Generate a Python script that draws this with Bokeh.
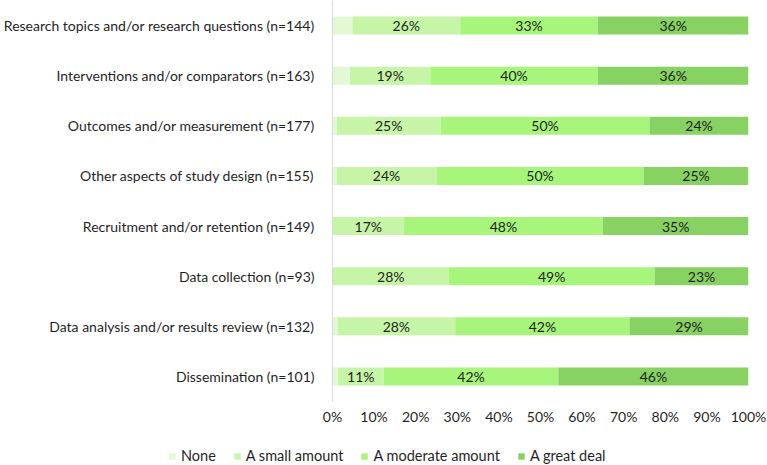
from bokeh.plotting import figure
from bokeh.layouts import column
from bokeh.models import ColumnDataSource, FactorRange, Range1d, Legend, LegendItem, FixedTicker
from bokeh.embed import file_html
from bokeh.resources import INLINE
from bokeh.core.properties import value

categories = [
    "Research topics and/or research questions (n=144)",
    "Interventions and/or comparators (n=163)",
    "Outcomes and/or measurement (n=177)",
    "Other aspects of study design (n=155)",
    "Recruitment and/or retention (n=149)",
    "Data collection (n=93)",
    "Data analysis and/or results review (n=132)",
    "Dissemination (n=101)",
]
none_vals = [4.8, 4.2, 1.0, 1.0, 0.0, 0.0, 1.2, 1.3]
small_vals = [25.9, 19.3, 25.0, 24.0, 17.2, 28.0, 28.3, 11.0]
moderate_vals = [33.1, 40.3, 50.2, 49.8, 47.8, 49.4, 41.9, 42.0]
great_vals = [36.2, 36.2, 23.8, 25.2, 35.0, 22.6, 28.6, 45.7]
series_names = ["None", "A small amount", "A moderate amount", "A great deal"]
series_colors = ["#e3f8d5", "#c6f5a7", "#a7f67b", "#87d262"]
x_ticks = [0, 10, 20, 30, 40, 50, 60, 70, 80, 90, 100]

FONT = "Lato"
FS = "14px"
TXT = "#1f1f1f"
W = 767

p = figure(
    width=W, height=435,
    y_range=FactorRange(factors=categories[::-1]),
    x_range=Range1d(0, 100),
    output_backend="svg", toolbar_location=None,
    min_border_left=331, min_border_right=19, min_border_top=0, min_border_bottom=34,
)
p.outline_line_color = None
p.grid.grid_line_color = None

series = [none_vals, small_vals, moderate_vals, great_vals]
left = [0.0] * len(categories)
for name, vals, col in zip(series_names, series, series_colors):
    right = [l + v for l, v in zip(left, vals)]
    src = ColumnDataSource(dict(cat=categories, left=left, right=right,
                                mid=[(l + r) / 2 for l, r in zip(left, right)],
                                label=[f"{v:.0f}%" for v in vals]))
    p.hbar(y="cat", left="left", right="right", height=0.36, source=src,
           fill_color=col, line_color=None)
    if name != "None":
        p.text(x="mid", y="cat", text="label", source=src, text_align="center",
               text_baseline="middle", text_font=value(FONT), text_font_size=FS,
               text_color=TXT)
    left = right

xa = p.xaxis[0]
xa.ticker = FixedTicker(ticks=x_ticks)
xa.major_label_overrides = {t: f"{t}%" for t in x_ticks}
xa.axis_line_color = None
xa.major_tick_line_color = None
xa.minor_tick_line_color = None
xa.major_label_standoff = 0
xa.major_label_text_font = FONT
xa.major_label_text_font_size = FS
xa.major_label_text_color = TXT

ya = p.yaxis[0]
ya.axis_line_color = "#d9d9d9"
ya.axis_line_width = 1
ya.major_tick_line_color = None
ya.minor_tick_line_color = None
ya.major_label_standoff = 12
ya.major_label_text_font = FONT
ya.major_label_text_font_size = FS
ya.major_label_text_color = TXT

# legend strip below the chart
lf = figure(width=W, height=30, x_range=Range1d(0, 1), y_range=Range1d(0, 1),
            x_axis_type=None, y_axis_type=None, output_backend="svg",
            toolbar_location=None, min_border=0)
lf.outline_line_color = None
lf.grid.grid_line_color = None
try:
    p.frame_align = False
    lf.frame_align = False
except AttributeError:
    pass
items = []
for name, col in zip(series_names, series_colors):
    r = lf.hbar(y=[5], left=[0], right=[0], height=0.5, fill_color=col, line_color=None)
    items.append(LegendItem(label=name, renderers=[r]))
legend = Legend(
    items=items, orientation="horizontal", location=(168, 1),
    glyph_width=8, glyph_height=8, label_height=16, label_standoff=5, spacing=17,
    padding=0, margin=0, border_line_color=None, background_fill_alpha=0,
    label_text_font=FONT, label_text_font_size="14.5px", label_text_color=TXT,
)
lf.add_layout(legend)

open("out.html", "w").write(file_html(column(p, lf, spacing=0), INLINE))
